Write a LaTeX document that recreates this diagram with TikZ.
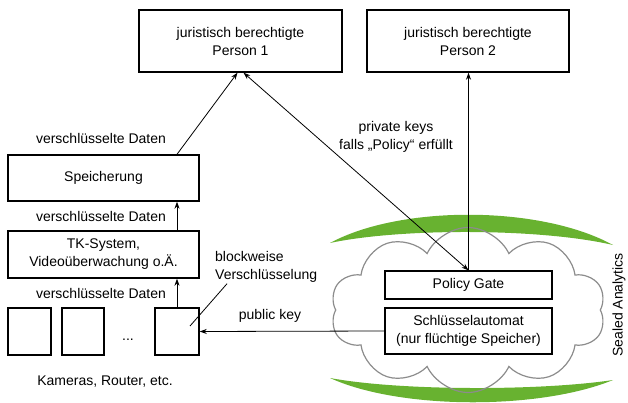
\documentclass[tikz,border=0pt]{standalone}
\usepackage{fontspec}
\setmainfont{Liberation Sans}
\usetikzlibrary{shapes.symbols,arrows.meta}
\definecolor{sagreen}{RGB}{104,178,48}
\definecolor{cloudgray}{RGB}{140,140,140}
\tikzset{
  box/.style={draw,line width=1.4pt,fill=white,align=center,inner sep=2pt},
  conn/.style={line width=0.8pt,>={Stealth[length=7pt,width=5pt]},->},
  lbl/.style={align=center,inner sep=1pt}
}

\begin{document}
\begin{tikzpicture}[x=1pt,y=-1pt,font=\fontsize{14}{18}\selectfont]
  \useasboundingbox (0,0) rectangle (628,403);

  \fill[sagreen] (330,243) .. controls (400,205) and (540,205) .. (613,245)
    .. controls (540,228) and (400,228) .. (330,243) -- cycle;
  \fill[sagreen] (330,378) .. controls (400,391) and (540,391) .. (613,380)
    .. controls (540,410) and (400,410) .. (330,378) -- cycle;
  \node[cloud,draw=cloudgray,line width=1.2pt,cloud puffs=10,cloud puff arc=130,
    cloud ignores aspect,minimum width=275pt,minimum height=165pt] (wolke) at (468,310) {};

  \node[box,minimum width=203pt,minimum height=62pt] (p1) at (240.5,41) {juristisch berechtigte\\Person 1};
  \node[box,minimum width=202pt,minimum height=62pt] (p2) at (468,41) {juristisch berechtigte\\Person 2};
  \node[box,minimum width=191pt,minimum height=46pt] (speicher) at (103.5,178) {Speicherung};
  \node[box,minimum width=191pt,minimum height=47pt] (tk) at (103.5,254.5) {TK-System,\\Videoüberwachung o.Ä.};
  \node[box,minimum width=43pt,minimum height=47pt] (cam1) at (29.5,331.5) {};
  \node[box,minimum width=42pt,minimum height=47pt] (cam2) at (83,331.5) {};
  \node[box,minimum width=44pt,minimum height=47pt] (cam3) at (177,331.5) {};
  \node[anchor=base] (dots) at (128,340) {...};
  \node[box,minimum width=167pt,minimum height=28pt] (gate) at (468.5,285) {Policy Gate};
  \node[box,minimum width=167pt,minimum height=46pt] (automat) at (468.5,331) {Schlüsselautomat\\(nur flüchtige Speicher)};

  \node[lbl] (vd1) at (101,138) {verschlüsselte Daten};
  \node[lbl] (vd2) at (101,216) {verschlüsselte Daten};
  \node[lbl] (vd3) at (101,293) {verschlüsselte Daten};
  \node[lbl,align=left,anchor=west] (block) at (214,267) {blockweise\\Verschlüsselung};
  \node[lbl] (pk) at (270,316) {public key};
  \node[lbl] (priv) at (396,137) {private keys\\falls „Policy“ erfüllt};
  \node[lbl] (kam) at (105,382) {Kameras, Router, etc.};
  \node[lbl,rotate=90,inner sep=0pt] (sealed) at (619,305) {Sealed Analytics};

  \coordinate (ziel) at (190,326);
  \draw[conn] (cam3.north) -- (cam3.north |- tk.south);
  \draw[conn] (tk.north -| cam3) -- (speicher.south -| cam3);
  \draw[conn] (speicher.north -| cam3) -- ([xshift=-3pt]p1.south);
  \draw[conn,<->] (gate.north) -- ([xshift=3pt]p1.south);
  \draw[conn] (gate.north) -- (gate.north |- p2.south);
  \draw[conn] (automat.west) -- (cam3.east);
  \draw[line width=0.8pt] (block.south west) ++(13,0) -- (ziel);
\end{tikzpicture}
\end{document}
